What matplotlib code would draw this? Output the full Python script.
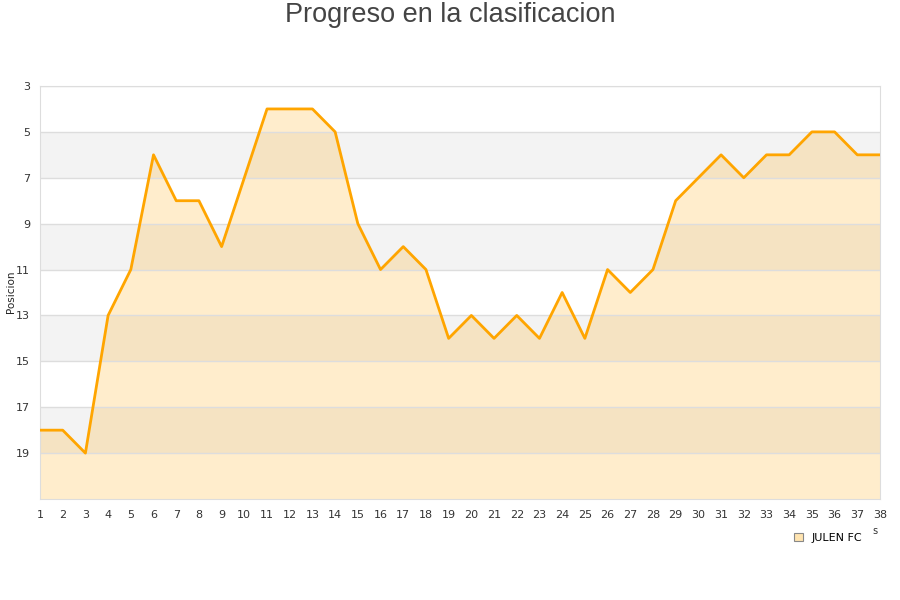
import matplotlib.pyplot as plt
from matplotlib.patches import Patch

jornadas = list(range(1, 39))
posicion = [18, 18, 19, 13, 11, 6, 8, 8, 10, 7,
            4, 4, 4, 5, 9, 11, 10, 11, 14, 13,
            14, 13, 14, 12, 14, 11, 12, 11, 8, 7,
            6, 7, 6, 6, 5, 5, 6, 6]
y_ticks = [3, 5, 7, 9, 11, 13, 15, 17, 19]
equipo = 'JULEN FC'

plt.rcParams['font.family'] = ['DejaVu Sans']

fig = plt.figure(figsize=(9, 6), dpi=100)
ax = fig.add_axes([40/900, 1 - 499/600, 840/900, 413/600])

# bandas alternas
for lo in range(5, 21, 4):
    ax.axhspan(lo, lo + 2, color='#f3f3f3', zorder=0, lw=0)

ax.fill_between(jornadas, posicion, 21, color='orange', alpha=0.2, lw=0, zorder=1)
ax.plot(jornadas, posicion, color='#ffa500', lw=2.0, zorder=3)

ax.set_xlim(1, 38)
ax.set_ylim(21, 3)
ax.set_xticks(jornadas)
ax.set_yticks(y_ticks)
ax.tick_params(length=0, labelsize=8, colors='#333333', pad=8)
ax.tick_params(axis='y', pad=7)
ax.grid(axis='y', color='#dddddd', lw=1, zorder=2)
for s in ax.spines.values():
    s.set_color('#dddddd')

fig.text(11/900, 1 - 292/600, 'Posicion', rotation=90, ha='center', va='center',
         fontsize=7.5, color='#222222')
fig.text(0.5, 1 - 15/600, 'Progreso en la clasificacion', ha='center', va='center',
         fontsize=19.5, color='#444444', family='Liberation Sans')
fig.text(875/900, 1 - 531/600, 's', ha='center', va='center', fontsize=7, color='#333333')

fig.legend(handles=[Patch(facecolor='#ffe4b0', edgecolor='#888888', lw=0.8)],
           labels=[equipo], loc='center', bbox_to_anchor=(828/900, 1 - 538/600),
           frameon=False, fontsize=8, handlelength=0.8, handleheight=0.8,
           handletextpad=0.8)

fig.savefig('out.png', dpi=100)
